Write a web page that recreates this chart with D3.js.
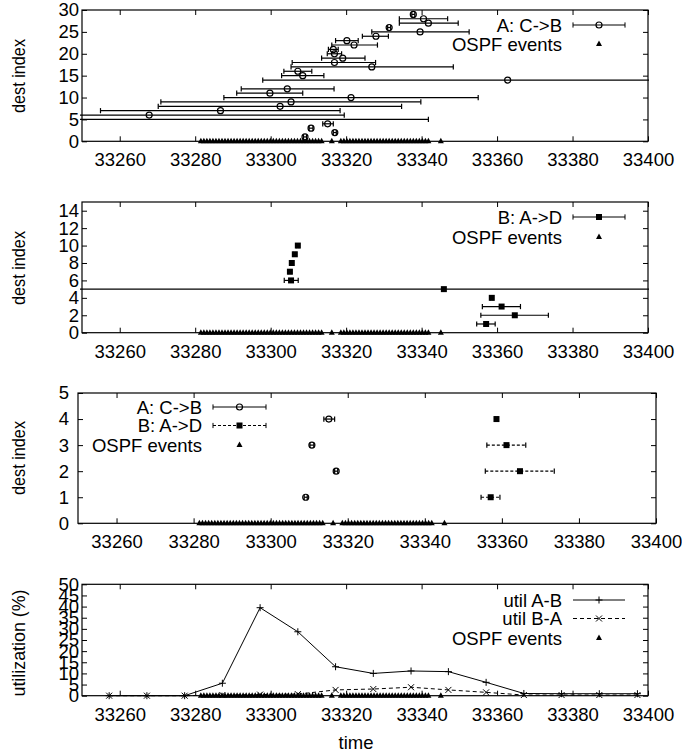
<!DOCTYPE html>
<html>
<head>
<meta charset="utf-8">
<script src="https://cdn.jsdelivr.net/npm/d3@7"></script>
<style>
  body { margin: 0; background: #fff; }
  svg { display: block; font-family: "Liberation Sans", Arial, Helvetica, sans-serif; }
</style>
</head>
<body>
<svg id="chart" width="682" height="753"></svg>
<script>
// time axis shared by all panels
const timeDomain = [33250, 33400];
const timeTicks = [33260, 33280, 33300, 33320, 33340, 33360, 33380, 33400];

// OSPF events (all sit on dest index 0)
const ospfTimes = [
  33281.5, 33282.3, 33283.1, 33283.9, 33284.7, 33285.5, 33286.3, 33287.1, 33287.9, 33288.7,
  33289.5, 33290.3, 33291.1, 33291.9, 33292.7, 33293.5, 33294.3, 33295.1, 33295.9, 33296.7,
  33297.5, 33298.3, 33299.1, 33299.9, 33300.7, 33301.5, 33302.3, 33303.1, 33303.9, 33304.7,
  33305.5, 33306.3, 33307.1, 33307.9, 33308.7, 33309.5, 33310.3, 33311.1, 33311.9, 33312.7,
  33313.5,
  33316.2,
  33318.6, 33319.4, 33320.2, 33321.0, 33321.8, 33322.6, 33323.4, 33324.2, 33325.0, 33325.8,
  33326.6, 33327.4, 33328.2, 33329.0, 33329.8, 33330.6, 33331.4, 33332.2, 33333.0, 33333.8,
  33334.6, 33335.4, 33336.2, 33337.0, 33337.8, 33338.6, 33339.4, 33340.2, 33341.0, 33341.8,
  33345.1
];

// A: C->B  (dest index, time, error low, error high)
const aDest = [1, 2, 3, 4, 5, 6, 7, 8, 9, 10, 11, 12, 14, 15, 16, 17, 18, 19, 20, 21, 22, 23, 24, 25, 26, 27, 28, 29];
const aTime = [33309.1, 33317.0, 33310.7, 33315.1, 33240.0, 33267.8, 33286.7, 33302.5, 33305.4, 33321.3,
  33299.8, 33304.4, 33362.8, 33308.5, 33307.2, 33326.8, 33316.9, 33319.1, 33316.9, 33316.6,
  33322.1, 33320.2, 33327.9, 33339.6, 33331.4, 33341.8, 33340.5, 33337.8];
const aLow = [33308.7, 33316.6, 33310.2, 33313.8, 33230.0, 33249.4, 33254.9, 33270.2, 33270.9, 33287.6,
  33291.0, 33292.2, 33297.9, 33302.9, 33303.5, 33305.4, 33305.7, 33313.5, 33315.0, 33315.3,
  33316.2, 33317.2, 33324.3, 33326.8, 33331.0, 33334.1, 33334.1, 33337.4];
const aHigh = [33309.5, 33317.4, 33311.2, 33316.6, 33341.8, 33319.5, 33318.4, 33334.7, 33339.8, 33355.0,
  33308.5, 33316.8, 33420.0, 33314.1, 33310.9, 33348.4, 33327.8, 33325.0, 33318.8, 33317.9,
  33328.3, 33323.2, 33331.2, 33352.6, 33331.8, 33349.7, 33346.9, 33338.2];

// B: A->D
const bDest = [1, 2, 3, 4, 5, 6, 7, 8, 9, 10];
const bTime = [33357.1, 33364.7, 33361.2, 33358.6, 33345.9, 33305.4, 33305.1, 33305.6, 33306.4, 33307.2];
const bLow = [33354.6, 33355.7, 33356.1, 33358.3, 33230.0, 33303.6, 33304.8, 33305.3, 33306.1, 33306.9];
const bHigh = [33359.5, 33373.6, 33366.2, 33358.9, 33420.0, 33307.3, 33305.4, 33305.9, 33306.7, 33307.5];

// link utilization (%)
const utilTime = [33257.2, 33267.2, 33277.2, 33287.2, 33297.2, 33307.2, 33317.2, 33327.2,
  33337.2, 33347.1, 33357.1, 33367.1, 33377.1, 33387.1, 33397.2];
const utilAB = [0, 0, 0, 5.6, 39.5, 28.7, 13.0, 10.0, 11.1, 10.8, 6.0, 1.0, 0.9, 0.9, 0.9];
const utilBA = [0, 0, 0, 0.3, 0.5, 0.7, 2.6, 3.0, 3.8, 2.6, 1.5, 0.3, 0.3, 0.3, 0.3];

// y tick values per panel
const yTicks1 = [0, 5, 10, 15, 20, 25, 30];
const yTicks2 = [0, 2, 4, 6, 8, 10, 12, 14];
const yTicks3 = [0, 1, 2, 3, 4, 5];
const yTicks4 = [0, 5, 10, 15, 20, 25, 30, 35, 40, 45, 50];

const svg = d3.select("#chart");
const FS = 18.5;

const rowsA = aDest.map((d, i) => ({ d, t: aTime[i], lo: aLow[i], hi: aHigh[i] }));
const rowsB = bDest.map((d, i) => ({ d, t: bTime[i], lo: bLow[i], hi: bHigh[i] }));

// one gnuplot-like frame with mirrored inward ticks
function panel(box) {
  const x = d3.scaleLinear().domain(timeDomain).range([box.x0, box.x1]);
  const y = d3.scaleLinear().domain([0, box.yMax]).range([box.y1, box.y0]);
  const g = svg.append("g");

  const axes = [
    [d3.axisBottom(x).tickValues(timeTicks).tickSize(-5).tickPadding(12), `translate(0,${box.y1})`, true],
    [d3.axisTop(x).tickValues(timeTicks).tickSize(-5), `translate(0,${box.y0})`, false],
    [d3.axisLeft(y).tickValues(box.yTicks).tickSize(-5).tickPadding(box.ypad), `translate(${box.x0},0)`, true],
    [d3.axisRight(y).tickValues(box.yTicks).tickSize(-5), `translate(${box.x1},0)`, false]
  ];
  axes.forEach(([ax, tr, labels]) => {
    const a = g.append("g").attr("transform", tr).call(ax.tickFormat(labels ? d3.format("d") : ""));
    a.select(".domain").remove();
    a.selectAll("line").attr("stroke", "#000").attr("stroke-width", 1);
    a.selectAll("text").attr("fill", "#000").style("font-size", FS + "px")
      .style("font-family", '"Liberation Sans", Arial, sans-serif');
  });

  g.append("rect")
    .attr("x", box.x0).attr("y", box.y0)
    .attr("width", box.x1 - box.x0).attr("height", box.y1 - box.y0)
    .attr("fill", "none").attr("stroke", "#000").attr("stroke-width", 1.2);

  g.append("text")
    .attr("transform", `translate(18,${box.ly}) rotate(-90)`)
    .attr("text-anchor", "middle").attr("dominant-baseline", "central")
    .attr("textLength", box.lLen).attr("lengthAdjust", "spacingAndGlyphs")
    .style("font-size", FS + "px")
    .text(box.ylabel);

  return { g, x, y, box };
}

function errorBars(p, rows, dash, marker) {
  const { g, x, y, box } = p;
  rows.forEach(r => {
    const yy = y(r.d);
    const xa = x(r.lo), xb = x(r.hi);
    const ca = Math.max(xa, box.x0 - 2), cb = Math.min(xb, box.x1 + 1);
    g.append("line").attr("x1", ca).attr("x2", cb).attr("y1", yy).attr("y2", yy)
      .attr("stroke", "#000").attr("stroke-width", 1.2).attr("stroke-dasharray", dash);
    [[xa, ca], [xb, cb]].forEach(([v, c]) => {
      if (v === c) {
        g.append("line").attr("x1", v).attr("x2", v).attr("y1", yy - 2.6).attr("y2", yy + 2.6)
          .attr("stroke", "#000").attr("stroke-width", 1.2);
      }
    });
    if (r.t >= timeDomain[0] && r.t <= timeDomain[1]) marker(g, x(r.t), yy);
  });
}

function circle(g, cx, cy) {
  g.append("circle").attr("cx", cx).attr("cy", cy).attr("r", 3)
    .attr("fill", "none").attr("stroke", "#000").attr("stroke-width", 1.2);
}
function square(g, cx, cy) {
  g.append("rect").attr("x", cx - 3).attr("y", cy - 3).attr("width", 6).attr("height", 6).attr("fill", "#000");
}
function tri(g, cx, cy) {
  g.append("path").attr("d", `M${cx - 3},${cy + 2} L${cx + 3},${cy + 2} L${cx},${cy - 3.5} Z`).attr("fill", "#000");
}
function plus(g, cx, cy) {
  g.append("path").attr("d", `M${cx - 3.5},${cy} H${cx + 3.5} M${cx},${cy - 3.5} V${cy + 3.5}`)
    .attr("stroke", "#000").attr("stroke-width", 1);
}
function cross(g, cx, cy) {
  g.append("path").attr("d", `M${cx - 3},${cy - 3} L${cx + 3},${cy + 3} M${cx - 3},${cy + 3} L${cx + 3},${cy - 3}`)
    .attr("stroke", "#000").attr("stroke-width", 1);
}

function ospf(p) {
  ospfTimes.forEach(t => tri(p.g, p.x(t), p.y(0)));
}

// legend: entries = [label, kind, marker, dash]
function legend(g, tx, sx0, sx1, ys, entries) {
  entries.forEach(([label, kind, marker, dash], i) => {
    const yy = ys[i];
    g.append("text").attr("x", tx).attr("y", yy).attr("text-anchor", "end")
      .attr("dominant-baseline", "central").style("font-size", FS + "px").text(label);
    const mid = (sx0 + sx1) / 2;
    if (kind !== "none") {
      g.append("line").attr("x1", sx0).attr("x2", sx1).attr("y1", yy).attr("y2", yy)
        .attr("stroke", "#000").attr("stroke-width", 1).attr("stroke-dasharray", dash);
      if (kind === "err") {
        [sx0, sx1].forEach(v => g.append("line").attr("x1", v).attr("x2", v)
          .attr("y1", yy - 2.6).attr("y2", yy + 2.6).attr("stroke", "#000").attr("stroke-width", 1));
      }
    }
    marker(g, mid, yy);
  });
}

// ---- panel 1: A: C->B
const p1 = panel({ x0: 82, x1: 648, y0: 10, y1: 141.3, yMax: 30, yTicks: yTicks1, ypad: 3,
  ylabel: "dest index", ly: 76, lLen: 74 });
ospf(p1);
errorBars(p1, rowsA, null, circle);
legend(p1.g, 562, 573, 625, [25, 44], [
  ["A: C->B", "err", circle, null],
  ["OSPF events", "none", tri, null]
]);

// ---- panel 2: B: A->D
const p2 = panel({ x0: 82, x1: 648, y0: 202, y1: 332.7, yMax: 15, yTicks: yTicks2, ypad: 3,
  ylabel: "dest index", ly: 268, lLen: 74 });
ospf(p2);
errorBars(p2, rowsB, null, square);
legend(p2.g, 562, 573, 625, [217, 237], [
  ["B: A->D", "err", square, null],
  ["OSPF events", "none", tri, null]
]);

// ---- panel 3: both, first few destinations
const p3 = panel({ x0: 78, x1: 656, y0: 393, y1: 523.3, yMax: 5, yTicks: yTicks3, ypad: 9,
  ylabel: "dest index", ly: 458, lLen: 74 });
ospf(p3);
errorBars(p3, rowsA.filter(r => r.d < 5), null, circle);
errorBars(p3, rowsB.filter(r => r.d < 5), "3,2", square);
legend(p3.g, 202, 213, 266, [407, 425.5, 445], [
  ["A: C->B", "err", circle, null],
  ["B: A->D", "err", square, "3,2"],
  ["OSPF events", "none", tri, null]
]);

// ---- panel 4: utilization
const p4 = panel({ x0: 82, x1: 648, y0: 584.3, y1: 695.7, yMax: 50, yTicks: yTicks4, ypad: 3,
  ylabel: "utilization (%)", ly: 643, lLen: 107 });
ospf(p4);
const line = d3.line().x(d => p4.x(d[0])).y(d => p4.y(d[1]));
const ab = utilTime.map((t, i) => [t, utilAB[i]]);
const ba = utilTime.map((t, i) => [t, utilBA[i]]);
p4.g.append("path").attr("d", line(ab)).attr("fill", "none").attr("stroke", "#000").attr("stroke-width", 1);
p4.g.append("path").attr("d", line(ba)).attr("fill", "none").attr("stroke", "#000").attr("stroke-width", 1)
  .attr("stroke-dasharray", "4,3");
ab.forEach(d => plus(p4.g, p4.x(d[0]), p4.y(d[1])));
ba.forEach(d => cross(p4.g, p4.x(d[0]), p4.y(d[1])));
legend(p4.g, 562, 573, 625, [600, 618.5, 638], [
  ["util A-B", "line", plus, null],
  ["util B-A", "line", cross, "4,3"],
  ["OSPF events", "none", tri, null]
]);

svg.append("text").attr("x", 356).attr("y", 742).attr("text-anchor", "middle")
  .attr("dominant-baseline", "central").style("font-size", FS + "px").text("time");
</script>
</body>
</html>
